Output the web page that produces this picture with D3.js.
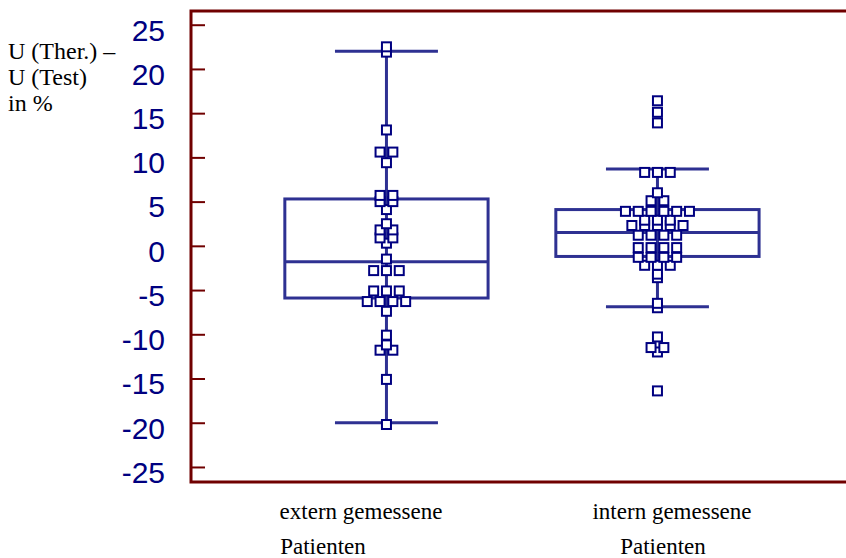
<!DOCTYPE html>
<html>
<head>
<meta charset="utf-8">
<script src="https://cdn.jsdelivr.net/npm/d3@7"></script>
<style>
  body { margin: 0; background: #fff; }
  svg { display: block; }
</style>
</head>
<body>
<div id="chart"></div>
<script>
// categories and x labels (two lines each)
const groups = ["extern", "intern"];
const labelLine1 = ["extern gemessene", "intern gemessene"];
const labelLine2 = ["Patienten", "Patienten"];

// individual values
const externValues = [22.5, 21.9, 13.1, 10.6, 10.6, 9.4, 5.7, 5.7, 5.0, 5.0, 4.1,
    2.5, 1.8, 1.8, 0.9, 0.9, 0.3, -1.5, -2.8, -2.8, -2.8, -5.1, -5.1, -5.1,
    -6.3, -6.3, -6.3, -6.3, -7.4, -10.1, -11.2, -11.8, -11.8, -15.1, -20.2];
const internValues = [16.4, 15.1, 13.9, 8.3, 8.3, 8.3, 6.0, 5.1, 5.1,
    3.9, 3.9, 3.9, 3.9, 3.9, 3.9, 2.9, 2.9, 2.9, 2.3, 2.3, 2.3, 2.3, 2.3,
    1.2, 1.2, 1.2, 1.2, -0.2, -0.2, -0.2, -0.2, -1.3, -1.3, -1.3, -1.3,
    -2.2, -2.2, -2.2, -3.2, -3.6, -6.5, -7.0, -10.3, -11.5, -11.5, -12.0, -16.4];

// box statistics
const whiskerLow = [-20.0, -6.9];
const q1 = [-5.9, -1.2];
const median = [-1.8, 1.5];
const q3 = [5.3, 4.1];
const whiskerHigh = [22.0, 8.7];

const yTicks = [-25, -20, -15, -10, -5, 0, 5, 10, 15, 20, 25];

const W = 846, H = 558;
const plotLeft = 191, plotRight = 846, plotTop = 11, plotBottom = 482;

const axisColor = "#700000";
const boxColor = "#2e3192";
const pointColor = "#000080";

const svg = d3.select("#chart")
    .append("svg")
    .attr("width", W)
    .attr("height", H);

// Scales
const x = d3.scalePoint()
    .domain(groups)
    .range([plotLeft, plotRight])
    .padding(0.7085)
    .align(0.509);

const y = d3.scaleLinear()
    .domain([-26.7, 26.55])
    .range([plotBottom, plotTop]);

const step = x.step();
const boxW = step * 0.75;
const capW = step * 0.38;

// Y axis with inward ticks
const yAxis = d3.axisLeft(y)
    .tickValues(yTicks)
    .tickSizeInner(-14)
    .tickSizeOuter(0)
    .tickPadding(26)
    .tickFormat(d => String(d));

const gy = svg.append("g")
    .attr("transform", `translate(${plotLeft},0)`)
    .call(yAxis);
gy.select(".domain").remove();
gy.selectAll(".tick line")
    .attr("stroke", axisColor)
    .attr("stroke-width", 2);
gy.selectAll(".tick text")
    .attr("dy", "0.51em")
    .style("font-family", "'Liberation Sans', Arial, sans-serif")
    .style("font-size", "30px")
    .attr("fill", pointColor);

// Frame: left, top and bottom lines
svg.append("path")
    .attr("d", `M${plotRight},${plotTop}H${plotLeft}V${plotBottom}H${plotRight}`)
    .attr("fill", "none")
    .attr("stroke", axisColor)
    .attr("stroke-width", 3);

// Y axis title
const yTitle = svg.append("text")
    .style("font-family", "'Liberation Serif', 'Times New Roman', serif")
    .style("font-size", "24px")
    .attr("fill", "#000");
["U (Ther.) \u2013", "U (Test)", "in %"].forEach((t, i) => {
    yTitle.append("tspan")
        .attr("x", 8)
        .attr("y", 59 + i * 26)
        .text(t);
});

// Boxes and whiskers
const boxes = svg.append("g")
    .attr("fill", "none")
    .attr("stroke", boxColor)
    .attr("stroke-width", 3);

groups.forEach((g, i) => {
    const cx = x(g);
    // whisker line
    boxes.append("line")
        .attr("x1", cx).attr("x2", cx)
        .attr("y1", y(whiskerLow[i])).attr("y2", y(whiskerHigh[i]));
    // caps
    [whiskerLow[i], whiskerHigh[i]].forEach(v => {
        boxes.append("line")
            .attr("x1", cx - capW / 2).attr("x2", cx + capW / 2)
            .attr("y1", y(v)).attr("y2", y(v));
    });
    // box
    boxes.append("rect")
        .attr("x", cx - boxW / 2)
        .attr("y", y(q3[i]))
        .attr("width", boxW)
        .attr("height", y(q1[i]) - y(q3[i]));
    // median
    boxes.append("line")
        .attr("x1", cx - boxW / 2).attr("x2", cx + boxW / 2)
        .attr("y1", y(median[i])).attr("y2", y(median[i]));
});

// Points: equal values are spread sideways
const spread = 12.8;
const pts = [];
[externValues, internValues].forEach((vals, i) => {
    const byValue = d3.group(vals, v => v);
    byValue.forEach((arr, v) => {
        arr.forEach((_, k) => {
            pts.push({ group: groups[i], value: v, offset: (k - (arr.length - 1) / 2) * spread });
        });
    });
});
pts.sort((a, b) => a.value - b.value);

const sq = 9;
svg.append("g")
    .selectAll("rect")
    .data(pts)
    .enter().append("rect")
    .attr("x", d => x(d.group) + d.offset - sq / 2)
    .attr("y", d => y(d.value) - sq / 2)
    .attr("width", sq)
    .attr("height", sq)
    .attr("fill", "#fff")
    .attr("stroke", pointColor)
    .attr("stroke-width", 2);

// X labels
const labelX1 = [361, 672];
const labelX2 = [323, 663];
groups.forEach((g, i) => {
    svg.append("text")
        .attr("x", labelX1[i])
        .attr("y", 519)
        .attr("text-anchor", "middle")
        .style("font-family", "'Liberation Serif', 'Times New Roman', serif")
        .style("font-size", "23px")
        .text(labelLine1[i]);
    svg.append("text")
        .attr("x", labelX2[i])
        .attr("y", 554)
        .attr("text-anchor", "middle")
        .style("font-family", "'Liberation Serif', 'Times New Roman', serif")
        .style("font-size", "23px")
        .text(labelLine2[i]);
});
</script>
</body>
</html>
